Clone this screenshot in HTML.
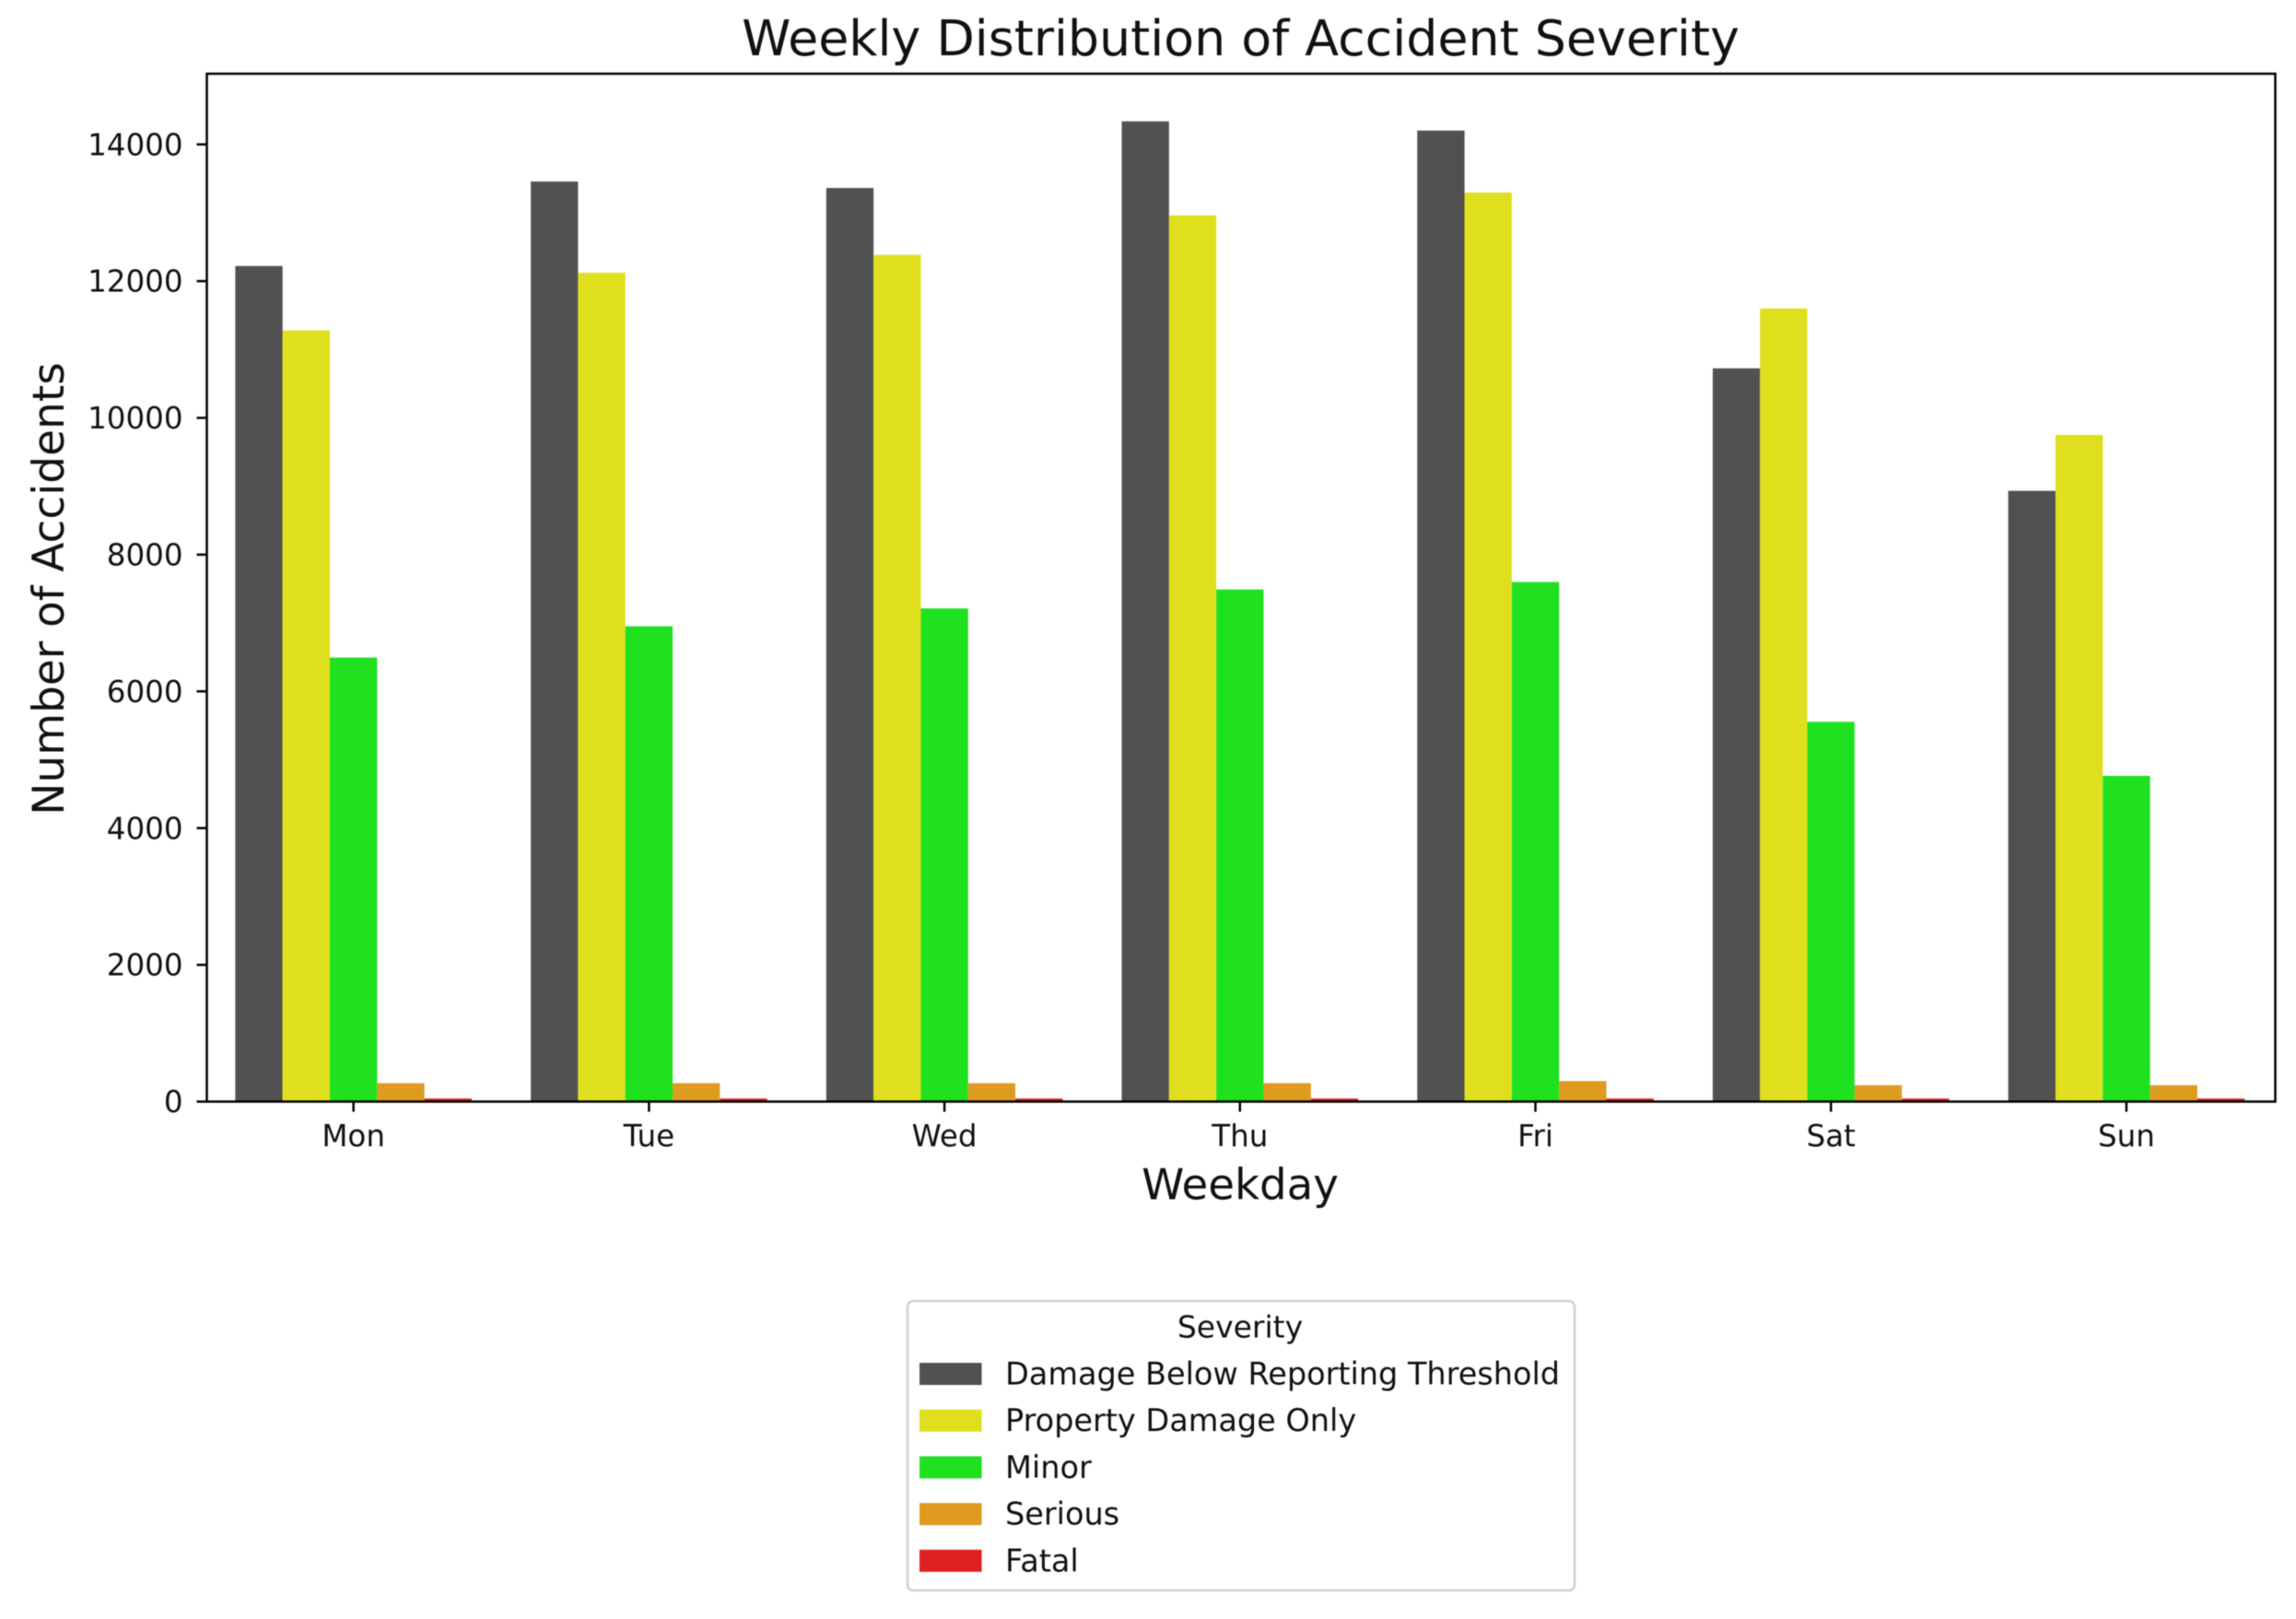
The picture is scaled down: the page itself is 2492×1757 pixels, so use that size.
<!DOCTYPE html>
<html lang="en">
<head>
<meta charset="utf-8">
<title>Weekly Distribution of Accident Severity</title>
<style>
  html, body { margin: 0; padding: 0; background: #ffffff; }
  body { width: 2492px; height: 1757px; overflow: hidden; }
  svg { display: block; filter: blur(0.6px); }
  text { font-family: "DejaVu Sans", "Liberation Sans", sans-serif; fill: #111111; }
</style>
</head>
<body>
<svg id="chart" xmlns="http://www.w3.org/2000/svg" width="2492" height="1757" viewBox="0 0 2492 1757">
  <rect x="0" y="0" width="2492" height="1757" fill="#ffffff"/>
  <text x="1346.5" y="60" font-size="53.8" text-anchor="middle">Weekly Distribution of Accident Severity</text>
  <text x="1346" y="1301.5" font-size="46.7" text-anchor="middle">Weekday</text>
  <text transform="translate(69,639) rotate(-90)" font-size="47" text-anchor="middle">Number of Accidents</text>
  <g id="bars"></g>
  <g id="y-axis"></g>
  <g id="x-axis"></g>
  <rect x="224.5" y="80" width="2245" height="1115.5" fill="none" stroke="#000000" stroke-width="2.5"/>
  <g id="legend">
    <rect x="985" y="1412" width="724" height="314" rx="6" ry="6" fill="#ffffff" stroke="#d0d0d0" stroke-width="2.5"/>
    <text x="1346" y="1451.5" font-size="33" text-anchor="middle">Severity</text>
  </g>
</svg>
<script>
const weekdays = ["Mon", "Tue", "Wed", "Thu", "Fri", "Sat", "Sun"];
const severities = ["Damage Below Reporting Threshold", "Property Damage Only", "Minor", "Serious", "Fatal"];
const severityColors = ["#515151", "#dfdf1e", "#1fe11f", "#df9b20", "#df2020"];
const damageBelowThreshold = [12221, 13457, 13362, 14337, 14202, 10725, 8933];
const propertyDamageOnly = [11278, 12123, 12383, 12962, 13295, 11601, 9751];
const minor = [6494, 6952, 7213, 7490, 7599, 5555, 4764];
const serious = [270, 270, 270, 270, 300, 240, 240];
const fatal = [45, 45, 45, 45, 45, 45, 45];
const yTickValues = [0, 2000, 4000, 6000, 8000, 10000, 12000, 14000];
const seriesValues = [damageBelowThreshold, propertyDamageOnly, minor, serious, fatal];

const NS = "http://www.w3.org/2000/svg";
const plotLeft = 224.5, plotRight = 2469.5, baseline = 1195.5, pxPerUnit = 148.4 / 2000;
const groupWidth = (plotRight - plotLeft) / weekdays.length;
const barWidth = groupWidth * 0.8 / severities.length;
const groupShift = -1.2;

function xCenter(i) { return plotLeft + groupShift + groupWidth * (i + 0.5); }
function barX(i, s) { return xCenter(i) + (s - severities.length / 2) * barWidth; }
function yPos(v) { return baseline - v * pxPerUnit; }
function make(tag, parent) {
  const el = document.createElementNS(NS, tag);
  parent.appendChild(el);
  return el;
}

const barsGroup = document.getElementById("bars");
seriesValues.forEach(function (values, s) {
  values.forEach(function (v, i) {
    const bar = make("rect", barsGroup);
    
    
    bar.setAttribute("x", barX(i, s));
    bar.setAttribute("y", yPos(v));
    bar.setAttribute("width", barWidth);
    bar.setAttribute("height", baseline - yPos(v));
    bar.setAttribute("fill", severityColors[s]);
  });
});

const yAxis = document.getElementById("y-axis");
yTickValues.forEach(function (t) {
  const tick = make("line", yAxis);
  
  
  tick.setAttribute("x1", plotLeft - 11);
  tick.setAttribute("x2", plotLeft);
  tick.setAttribute("y1", yPos(t));
  tick.setAttribute("y2", yPos(t));
  tick.setAttribute("stroke", "#000000");
  tick.setAttribute("stroke-width", "2.5");
  const label = make("text", yAxis);
  
  
  label.setAttribute("x", plotLeft - 26);
  label.setAttribute("y", yPos(t) + 11.6);
  label.setAttribute("font-size", "32.5");
  label.setAttribute("text-anchor", "end");
  label.textContent = String(t);
});

const xAxis = document.getElementById("x-axis");
weekdays.forEach(function (d, i) {
  const tick = make("line", xAxis);
  
  
  tick.setAttribute("x1", xCenter(i));
  tick.setAttribute("x2", xCenter(i));
  tick.setAttribute("y1", baseline);
  tick.setAttribute("y2", baseline + 11);
  tick.setAttribute("stroke", "#000000");
  tick.setAttribute("stroke-width", "2.5");
  const label = make("text", xAxis);
  
  
  label.setAttribute("x", xCenter(i));
  label.setAttribute("y", 1244);
  label.setAttribute("font-size", "32.5");
  label.setAttribute("text-anchor", "middle");
  label.textContent = d;
});

const legend = document.getElementById("legend");
severities.forEach(function (name, s) {
  const swatch = make("rect", legend);
  
  
  swatch.setAttribute("x", 998);
  swatch.setAttribute("y", 1479 + s * 50.7);
  swatch.setAttribute("width", 67.5);
  swatch.setAttribute("height", 24);
  swatch.setAttribute("fill", severityColors[s]);
  const label = make("text", legend);
  
  
  label.setAttribute("x", 1091);
  label.setAttribute("y", 1502.5 + s * 50.7);
  label.setAttribute("font-size", "33.5");
  label.textContent = name;
});
</script>
</body>
</html>
